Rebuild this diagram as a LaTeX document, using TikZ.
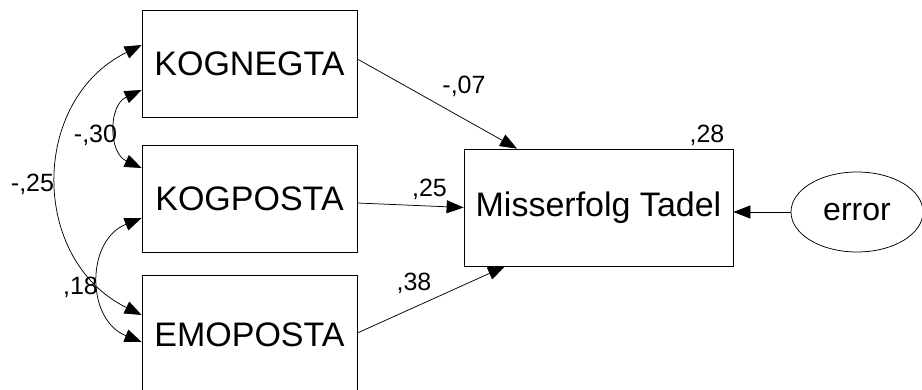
\documentclass[tikz,border=0pt]{standalone}
\usepackage{fontspec}
\setmainfont{Liberation Sans}
\usetikzlibrary{arrows.meta,shapes.geometric}
\begin{document}
\begin{tikzpicture}[x=1pt,y=-1pt,
  varbox/.style={draw,line width=0.75pt,minimum width=215pt,minimum height=107pt,inner sep=0pt,
    font=\fontsize{34}{40}\selectfont},
  errnode/.style={draw,ellipse,line width=0.75pt,minimum width=132pt,minimum height=80pt,inner sep=0pt,
    font=\fontsize{32}{38}\selectfont},
  coef/.style={anchor=base,inner sep=0pt,font=\fontsize{25}{30}\selectfont},
  tip/.tip={Triangle[length=17pt,width=13pt]},
  path/.style={line width=0.75pt,-tip},
  cov/.style={line width=0.75pt,tip-tip}]
\path[use as bounding box,clip] (0,0) rectangle (922,390);

% observed variables
\node[varbox] (kn) at (249.5,63.5) {KOGNEGTA};
\node[varbox] (kp) at (249.5,198.5) {KOGPOSTA};
\node[varbox,minimum height=120pt] (ep) at (249.5,335) {EMOPOSTA};
\node[draw,line width=0.75pt,minimum width=269pt,minimum height=117pt,inner sep=0pt,
  font=\fontsize{34}{40}\selectfont] (mt) at (598.5,207.5) {Misserfolg Tadel};
\node[errnode] (er) at (857,212) {error};

% regression paths
\draw[path] ([yshift=4.5pt]kn.east) -- ([xshift=-81.5pt]mt.north);
\draw[path] ([yshift=-4.5pt]kp.east) -- (mt.west);
\draw[path] ([yshift=2pt]ep.east) -- ([xshift=-93.5pt]mt.south);
\draw[path] (er.west) -- (mt.east |- er.west);

% covariances
\draw[cov] ([yshift=18.5pt]kn.west) .. controls +(-112,55) and +(-112,-55) .. ([yshift=20pt]ep.west);
\draw[cov] ([yshift=-26.5pt]kn.west) .. controls +(-33.4,15.3) and +(-33.4,-15.3) .. ([yshift=30.5pt]kp.west);
\draw[cov] ([yshift=-19.5pt]kp.west) .. controls +(-55.9,22.3) and +(-55.9,-22.3) .. ([yshift=-7pt]ep.west);

% estimates
\node[coef] (l07) at (464,94) {-,07};
\node[coef] (l25) at (429.5,197) {,25};
\node[coef] (l38) at (414,291) {,38};
\node[coef] (l28) at (707,143) {,28};
\node[coef] (c25) at (32.5,192) {-,25};
\node[coef] (c30) at (95.5,143) {-,30};
\node[coef] (c18) at (80.5,295) {,18};
\end{tikzpicture}
\end{document}
